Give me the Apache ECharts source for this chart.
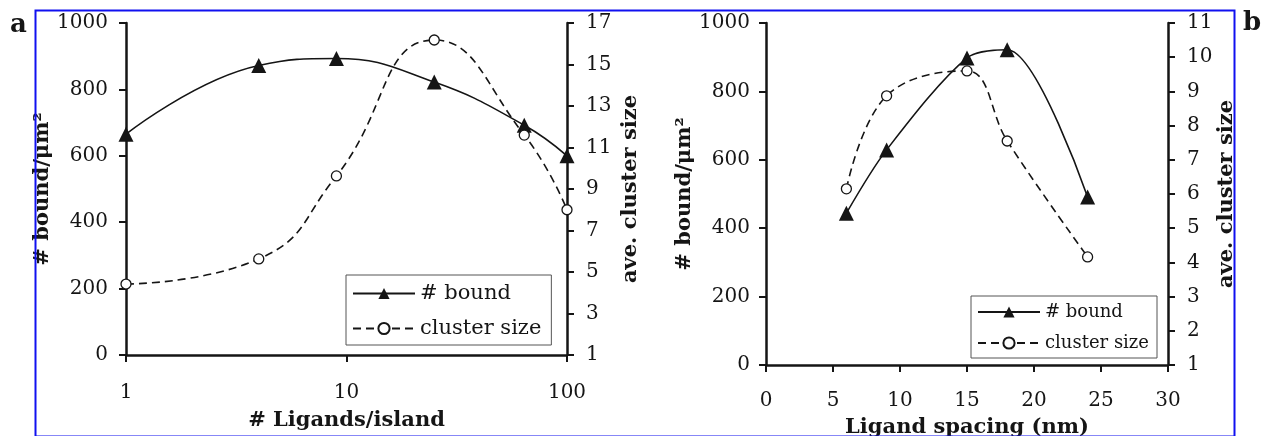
<!DOCTYPE html>
<html>
<head>
<meta charset="utf-8">
<script src="https://cdn.jsdelivr.net/npm/echarts@6/dist/echarts.min.js"></script>
<style>
  body { margin: 0; background: #fff; }
</style>
</head>
<body>
<div id="myChart" style="width: 1270px; height: 436px;"></div>
<script>
// panel a: ligands per island (log axis)
const ligandsX = [1, 4, 9, 25, 64, 100];
const boundA = [665, 872, 893, 822, 692, 600];
const clusterA = [4.42, 5.63, 9.63, 16.18, 11.6, 8.0];
// panel b: ligand spacing
const spacingX = [6, 9, 15, 18, 24];
const boundB = [444, 629, 898, 922, 491];
const clusterB = [6.15, 8.87, 9.6, 7.55, 4.16];

const font = 'DejaVu Serif';
const ink = '#151515';

function pairs(xs, ys) {
  return xs.map((x, i) => [x, ys[i]]);
}

function valueAxis(opt) {
  return Object.assign({
    type: 'value',
    splitLine: { show: false },
    axisLine: { show: true, lineStyle: { color: ink, width: 2.5 } },
    axisTick: { show: true, length: 7, lineStyle: { color: ink, width: 2 } },
    nameLocation: 'middle',
    nameTextStyle: { color: ink, fontFamily: font, fontWeight: 'bold', fontSize: 21 }
  }, opt);
}

function label(margin) {
  return {
    color: ink, fontFamily: font, fontSize: 20, margin: margin,
    formatter: v => String(v)
  };
}

function legend(left, top, size, gap, pad) {
  return {
    orient: 'vertical',
    left: left,
    top: top,
    itemWidth: 62,
    itemHeight: 14,
    itemGap: gap,
    padding: pad,
    borderColor: '#555',
    borderWidth: 1,
    backgroundColor: '#fff',
    textStyle: { color: ink, fontFamily: font, fontSize: size },
    data: ['# bound', 'cluster size']
  };
}

function boundSeries(x, y, data, smooth) {
  return {
    name: '# bound', type: 'line', xAxisIndex: x, yAxisIndex: y,
    data: data, smooth: smooth,
    symbol: 'triangle', symbolSize: 15,
    lineStyle: { color: ink, width: 1.6 },
    itemStyle: { color: ink }
  };
}

function clusterSeries(x, y, data, smooth) {
  return {
    name: 'cluster size', type: 'line', xAxisIndex: x, yAxisIndex: y,
    data: data, smooth: smooth,
    symbol: 'circle', symbolSize: 10,
    lineStyle: { color: ink, width: 1.6, type: [8, 5] },
    itemStyle: { color: '#fff', borderColor: ink, borderWidth: 1.3 },
    z: 3
  };
}

let myChart = echarts.init(document.getElementById('myChart'));
let option = {
  animation: false,
  backgroundColor: '#fff',
  grid: [
    { left: 126, top: 23, width: 441, height: 332, outerBoundsMode: 'none' },
    { left: 766, top: 23, width: 402, height: 342, outerBoundsMode: 'none' }
  ],
  xAxis: [
    valueAxis({
      type: 'log', logBase: 10, min: 1, max: 100, gridIndex: 0,
      minorTick: { show: false },
      axisLabel: label(28),
      name: '# Ligands/island', nameGap: 55
    }),
    valueAxis({
      min: 0, max: 30, interval: 5, gridIndex: 1,
      axisLabel: label(26),
      name: 'Ligand spacing (nm)', nameGap: 52
    })
  ],
  yAxis: [
    valueAxis({
      min: 0, max: 1000, interval: 200, gridIndex: 0,
      axisLabel: label(18),
      name: '# bound/μm²', nameGap: 68
    }),
    valueAxis({
      min: 1, max: 17, interval: 2, gridIndex: 0, position: 'right',
      axisLabel: label(19),
      name: 'ave. cluster size', nameGap: 53
    }),
    valueAxis({
      min: 0, max: 1000, interval: 200, gridIndex: 1,
      axisLabel: label(16),
      name: '# bound/μm²', nameGap: 59
    }),
    valueAxis({
      min: 1, max: 11, interval: 1, gridIndex: 1, position: 'right',
      axisLabel: label(19),
      name: 'ave. cluster size', nameGap: 46
    })
  ],
  legend: [
    legend(346, 275, 21, 14, [8, 10, 6, 6]),
    legend(971, 296, 18, 13, [7, 8, 6, 6])
  ],
  series: [
    boundSeries(0, 0, pairs(ligandsX, boundA), 0.45),
    clusterSeries(0, 1, pairs(ligandsX, clusterA), 0.5),
    boundSeries(1, 2, pairs(spacingX, boundB), 0.3),
    clusterSeries(1, 3, pairs(spacingX, clusterB), 0.4)
  ],
  graphic: [
    {
      type: 'rect', left: 33, top: 8, silent: true, z: 100,
      shape: { width: 1199, height: 426 },
      style: { fill: 'none', stroke: '#1010f0', lineWidth: 2 }
    },
    {
      type: 'text', left: 10, top: 12,
      style: { text: 'a', fill: ink, font: 'bold 26px "DejaVu Serif"' }
    },
    {
      type: 'text', left: 1243, top: 10,
      style: { text: 'b', fill: ink, font: 'bold 26px "DejaVu Serif"' }
    }
  ]
};
myChart.setOption(option);
</script>
</body>
</html>
